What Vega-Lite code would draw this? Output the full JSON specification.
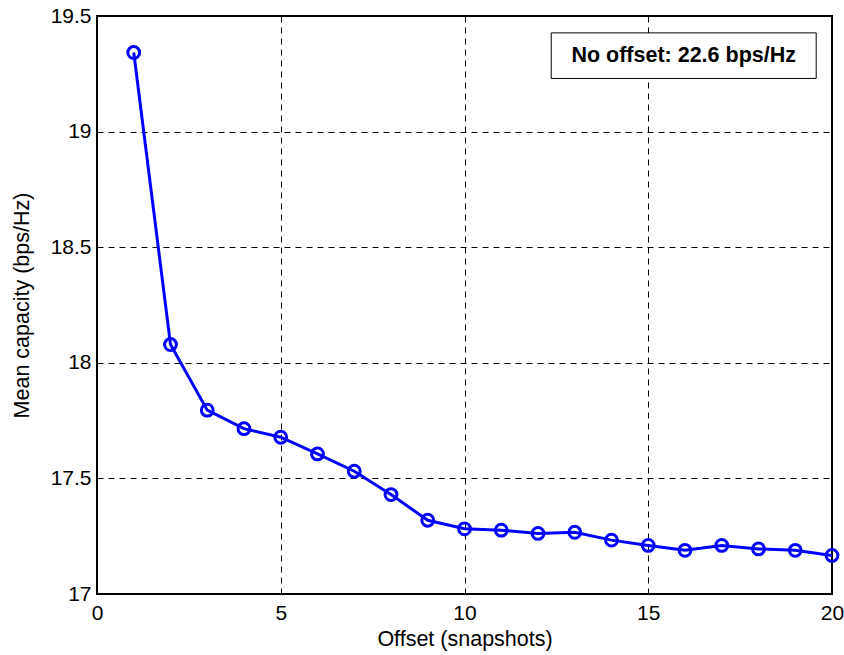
{
  "$schema": "https://vega.github.io/schema/vega-lite/v6.json",
  "autosize": "none",
  "width": 735,
  "height": 578,
  "padding": {"left": 97, "top": 16, "right": 12, "bottom": 61},
  "background": "white",
  "config": {
    "font": "Liberation Sans",
    "view": {"stroke": "black", "strokeWidth": 2},
    "axis": {
      "labelFont": "Liberation Sans",
      "titleFont": "Liberation Sans",
      "labelFontSize": 21,
      "titleFontSize": 21.5,
      "titleFontWeight": "normal",
      "labelColor": "black",
      "titleColor": "black",
      "domain": false,
      "ticks": false,
      "grid": true,
      "gridColor": "black",
      "gridDash": [6, 5],
      "gridWidth": 1,
      "gridOpacity": 1
    }
  },
  "datasets": {
    "series": [
      {"offset": 1, "capacity": 19.342},
      {"offset": 2, "capacity": 18.079},
      {"offset": 3, "capacity": 17.795},
      {"offset": 4, "capacity": 17.715},
      {"offset": 5, "capacity": 17.678},
      {"offset": 6, "capacity": 17.606},
      {"offset": 7, "capacity": 17.531},
      {"offset": 8, "capacity": 17.430},
      {"offset": 9, "capacity": 17.319},
      {"offset": 10, "capacity": 17.282},
      {"offset": 11, "capacity": 17.276},
      {"offset": 12, "capacity": 17.262},
      {"offset": 13, "capacity": 17.267},
      {"offset": 14, "capacity": 17.233},
      {"offset": 15, "capacity": 17.210},
      {"offset": 16, "capacity": 17.189},
      {"offset": 17, "capacity": 17.210},
      {"offset": 18, "capacity": 17.195},
      {"offset": 19, "capacity": 17.189},
      {"offset": 20, "capacity": 17.167}
    ],
    "note": [
      {"x1": 12.36, "x2": 19.57, "y1": 19.427, "y2": 19.23, "xm": 15.965, "ym": 19.3285, "label": "No offset: 22.6 bps/Hz"}
    ]
  },
  "layer": [
    {
      "data": {"name": "series"},
      "mark": {"type": "line", "color": "#0000ff", "strokeWidth": 3, "clip": false},
      "encoding": {
        "x": {"field": "offset", "type": "quantitative", "scale": {"domain": [0, 20], "nice": false, "zero": false},
              "axis": {"title": "Offset (snapshots)", "values": [0, 5, 10, 15, 20], "labelPadding": 8, "titlePadding": 5, "labelFlush": false}},
        "y": {"field": "capacity", "type": "quantitative", "scale": {"domain": [17, 19.5], "nice": false, "zero": false},
              "axis": {"title": "Mean capacity (bps/Hz)", "values": [17, 17.5, 18, 18.5, 19, 19.5], "format": "~g", "labelPadding": 6, "titlePadding": 17, "labelFlush": false}}
      }
    },
    {
      "data": {"name": "series"},
      "mark": {"type": "point", "shape": "circle", "filled": false, "color": "#0000ff", "strokeWidth": 3, "size": 140, "opacity": 1, "clip": false},
      "encoding": {
        "x": {"field": "offset", "type": "quantitative"},
        "y": {"field": "capacity", "type": "quantitative"}
      }
    },
    {
      "data": {"name": "note"},
      "mark": {"type": "rect", "fill": "white", "stroke": "black", "strokeWidth": 1},
      "encoding": {
        "x": {"field": "x1", "type": "quantitative"},
        "x2": {"field": "x2"},
        "y": {"field": "y1", "type": "quantitative"},
        "y2": {"field": "y2"}
      }
    },
    {
      "data": {"name": "note"},
      "mark": {"type": "text", "font": "Liberation Sans", "fontSize": 21.5, "fontWeight": "bold", "color": "black", "align": "center", "baseline": "middle"},
      "encoding": {
        "x": {"field": "xm", "type": "quantitative"},
        "y": {"field": "ym", "type": "quantitative"},
        "text": {"field": "label"}
      }
    }
  ]
}
